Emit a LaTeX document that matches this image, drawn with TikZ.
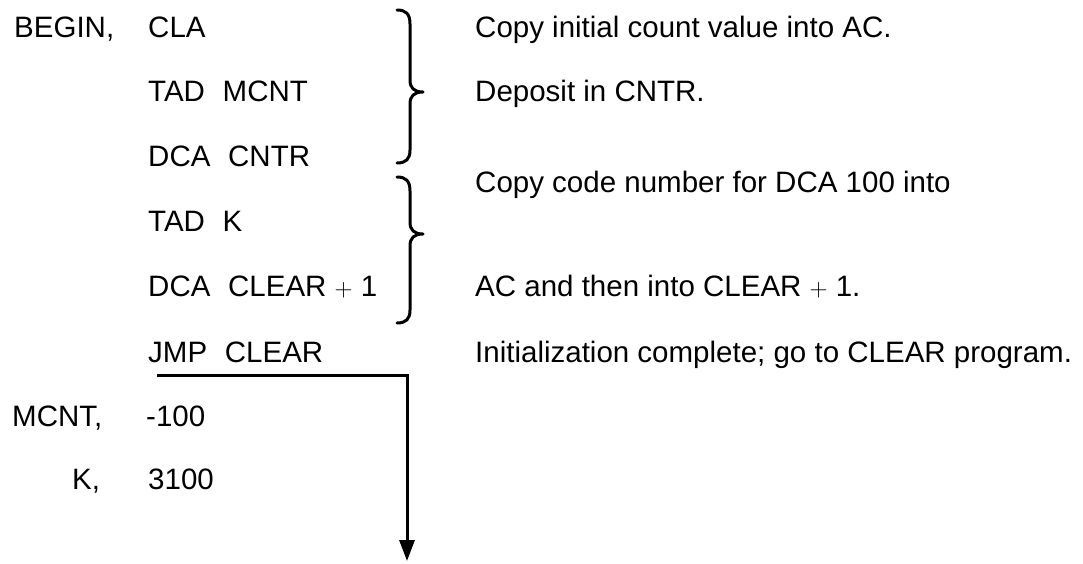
\documentclass[tikz,border=0pt]{standalone}
\usepackage{fontspec}
\setmainfont{Liberation Sans}
\usetikzlibrary{arrows.meta}
\newcommand{\opgap}{\hspace{0.6em}}
\begin{document}
\begin{tikzpicture}[x=1pt,y=-1pt,
  txt/.style={anchor=base west,inner sep=0pt,font=\fontsize{29.5}{34}\selectfont},
  bracepath/.style={line width=3pt,line cap=round,line join=round},
  flow/.style={line width=3pt,-{Triangle[length=21pt,width=15pt]}}]
\useasboundingbox (0,0) rectangle (1083,563);
% labels
\node[txt] (lbegin) at (14,37) {BEGIN,};
\node[txt] (lmcnt) at (12,426) {MCNT,};
\node[txt] (lk) at (72,489) {K,};
% instructions
\node[txt] (i1) at (148,37) {CLA};
\node[txt] (i2) at (148,101) {TAD\opgap MCNT};
\node[txt] (i3) at (148,166) {DCA\opgap CNTR};
\node[txt] (i4) at (148,231) {TAD\opgap K};
\node[txt] (i5) at (148,296) {DCA\opgap CLEAR $+$ 1};
\node[txt] (i6) at (148,362) {JMP\opgap CLEAR};
\node[txt] (i7) at (146,426) {-100};
\node[txt] (i8) at (148,489) {3100};
% comments
\node[txt] (c1) at (475,37) {Copy initial count value into AC.};
\node[txt] (c2) at (475,101) {Deposit in CNTR.};
\node[txt] (c3) at (475,192) {Copy code number for DCA 100 into};
\node[txt] (c4) at (475,296) {AC and then into CLEAR $+$ 1.};
\node[txt] (c5) at (475,362) {Initialization complete; go to CLEAR program.};
% braces
\draw[bracepath] (397,10) .. controls (406,10) and (410,14) .. (410,24)
  -- (410,80) .. controls (410,88) and (414,92) .. (423,92)
  .. controls (414,92) and (410,96) .. (410,104)
  -- (410,150) .. controls (410,159) and (406,163) .. (397,163);
\draw[bracepath] (397,177) .. controls (406,177) and (410,181) .. (410,191)
  -- (410,222) .. controls (410,230) and (414,234) .. (423,234)
  .. controls (414,234) and (410,238) .. (410,246)
  -- (410,310) .. controls (410,319) and (406,323) .. (397,323);
% jump to CLEAR
\coordinate (jstart) at (157,375);
\coordinate (jturn) at (407,375);
\coordinate (jend) at (407,561);
\draw[flow] (jstart) -- (jturn) -- (jend);
\end{tikzpicture}
\end{document}
